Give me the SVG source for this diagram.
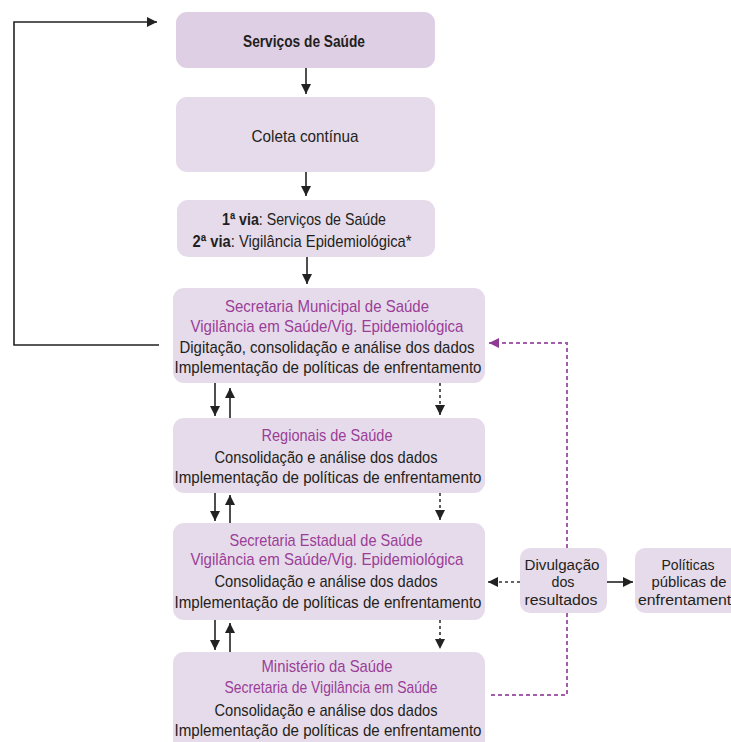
<svg xmlns="http://www.w3.org/2000/svg" width="731" height="742" viewBox="0 0 731 742">
<style>
.box{fill:#e6dbea;}
.box1{fill:#dfcfe4;}
text{font-family:"Liberation Sans","DejaVu Sans",sans-serif;font-size:17px;text-anchor:middle;}
.dk{fill:#231f20;}
.pu{fill:#9a3e98;}
.b{font-weight:bold;}
.sm{font-size:15.5px;}
.sol{stroke:#222;stroke-width:1.6;fill:none;}
.dsh{stroke:#333;stroke-width:1.6;fill:none;stroke-dasharray:3,3;}
.pdot{stroke:#a45ea9;stroke-width:2;fill:none;stroke-dasharray:4,3;}
</style>
<defs>
<marker id="ah" markerUnits="userSpaceOnUse" markerWidth="12" markerHeight="12" refX="10" refY="5" orient="auto">
<path d="M0,0 L10,5 L0,10 z" fill="#222"/>
</marker>
<marker id="ahp" markerUnits="userSpaceOnUse" markerWidth="12" markerHeight="12" refX="10" refY="5" orient="auto">
<path d="M0,0 L10,5 L0,10 z" fill="#8e3b93"/>
</marker>
</defs>

<g id="connectors">
<line class="sol" x1="306" y1="68" x2="306" y2="94" marker-end="url(#ah)"/>
<line class="sol" x1="306" y1="172" x2="306" y2="196" marker-end="url(#ah)"/>
<line class="sol" x1="307" y1="257" x2="307" y2="284" marker-end="url(#ah)"/>

<line class="sol" x1="215" y1="383" x2="215" y2="416" marker-end="url(#ah)"/>
<line class="sol" x1="230" y1="419" x2="230" y2="388" marker-end="url(#ah)"/>
<line class="dsh" x1="440" y1="383" x2="440" y2="415" marker-end="url(#ah)"/>

<line class="sol" x1="215" y1="493" x2="215" y2="521" marker-end="url(#ah)"/>
<line class="sol" x1="230" y1="523" x2="230" y2="495" marker-end="url(#ah)"/>
<line class="dsh" x1="440" y1="493" x2="440" y2="520" marker-end="url(#ah)"/>

<line class="sol" x1="215" y1="620" x2="215" y2="650" marker-end="url(#ah)"/>
<line class="sol" x1="230" y1="652" x2="230" y2="623" marker-end="url(#ah)"/>
<line class="dsh" x1="440" y1="620" x2="440" y2="649" marker-end="url(#ah)"/>

<path class="sol" d="M159,345 H14 V22 H157" marker-end="url(#ah)"/>

<line class="dsh" x1="520" y1="582" x2="488" y2="582" marker-end="url(#ah)"/>
<line class="sol" x1="607" y1="582" x2="633" y2="582" marker-end="url(#ah)"/>

<path class="pdot" d="M567,548 V343 H489" marker-end="url(#ahp)"/>
<path class="pdot" d="M567,613 V695 H489"/>
</g>

<g id="n1">
<rect class="box1" x="176" y="12" width="259" height="56" rx="11"/>
<text class="dk b" x="304" y="47" textLength="122" lengthAdjust="spacingAndGlyphs">Serviços de Saúde</text>
</g>

<g id="n2">
<rect class="box" x="176" y="97" width="259" height="75" rx="11"/>
<text class="dk" x="305" y="142" textLength="107" lengthAdjust="spacingAndGlyphs">Coleta contínua</text>
</g>

<g id="n3">
<rect class="box" x="177" y="200" width="258" height="57" rx="11"/>
<text class="dk" x="304" y="225" textLength="164" lengthAdjust="spacingAndGlyphs"><tspan class="b">1ª via</tspan>: Serviços de Saúde</text>
<text class="dk" x="302" y="247" textLength="219" lengthAdjust="spacingAndGlyphs"><tspan class="b">2ª via</tspan>: Vigilância Epidemiológica*</text>
</g>

<g id="n4">
<rect class="box" x="173" y="288" width="312" height="95" rx="11"/>
<text class="pu" x="327" y="312" textLength="204" lengthAdjust="spacingAndGlyphs">Secretaria Municipal de Saúde</text>
<text class="pu" x="327" y="332" textLength="273" lengthAdjust="spacingAndGlyphs">Vigilância em Saúde/Vig. Epidemiológica</text>
<text class="dk" x="327" y="353" textLength="295" lengthAdjust="spacingAndGlyphs">Digitação, consolidação e análise dos dados</text>
<text class="dk" x="328" y="373" textLength="307" lengthAdjust="spacingAndGlyphs">Implementação de políticas de enfrentamento</text>
</g>

<g id="n5">
<rect class="box" x="173" y="418" width="312" height="75" rx="11"/>
<text class="pu" x="327" y="441" textLength="131" lengthAdjust="spacingAndGlyphs">Regionais de Saúde</text>
<text class="dk" x="326" y="463" textLength="223" lengthAdjust="spacingAndGlyphs">Consolidação e análise dos dados</text>
<text class="dk" x="328" y="483" textLength="307" lengthAdjust="spacingAndGlyphs">Implementação de políticas de enfrentamento</text>
</g>

<g id="n6">
<rect class="box" x="173" y="523" width="312" height="97" rx="11"/>
<text class="pu" x="326" y="546" textLength="193" lengthAdjust="spacingAndGlyphs">Secretaria Estadual de Saúde</text>
<text class="pu" x="327" y="565" textLength="273" lengthAdjust="spacingAndGlyphs">Vigilância em Saúde/Vig. Epidemiológica</text>
<text class="dk" x="326" y="587" textLength="223" lengthAdjust="spacingAndGlyphs">Consolidação e análise dos dados</text>
<text class="dk" x="328" y="608" textLength="307" lengthAdjust="spacingAndGlyphs">Implementação de políticas de enfrentamento</text>
</g>

<g id="n7">
<rect class="box" x="173" y="652" width="312" height="100" rx="11"/>
<text class="pu" x="327" y="672" textLength="131" lengthAdjust="spacingAndGlyphs">Ministério da Saúde</text>
<text class="pu" x="331" y="693" textLength="213" lengthAdjust="spacingAndGlyphs">Secretaria de Vigilância em Saúde</text>
<text class="dk" x="326" y="716" textLength="223" lengthAdjust="spacingAndGlyphs">Consolidação e análise dos dados</text>
<text class="dk" x="328" y="736" textLength="307" lengthAdjust="spacingAndGlyphs">Implementação de políticas de enfrentamento</text>
</g>

<g id="n8">
<rect class="box" x="520" y="548" width="87" height="65" rx="10"/>
<text class="dk sm" x="562" y="570" textLength="75" lengthAdjust="spacingAndGlyphs">Divulgação</text>
<text class="dk sm" x="563" y="587" textLength="23" lengthAdjust="spacingAndGlyphs">dos</text>
<text class="dk sm" x="561" y="605" textLength="73" lengthAdjust="spacingAndGlyphs">resultados</text>
</g>

<g id="n9">
<rect class="box" x="635" y="548" width="110" height="65" rx="10"/>
<text class="dk sm" x="688" y="570" textLength="53" lengthAdjust="spacingAndGlyphs">Políticas</text>
<text class="dk sm" x="689" y="587" textLength="75" lengthAdjust="spacingAndGlyphs">públicas de</text>
<text class="dk sm" x="689" y="605" textLength="102" lengthAdjust="spacingAndGlyphs">enfrentamento</text>
</g>
</svg>
